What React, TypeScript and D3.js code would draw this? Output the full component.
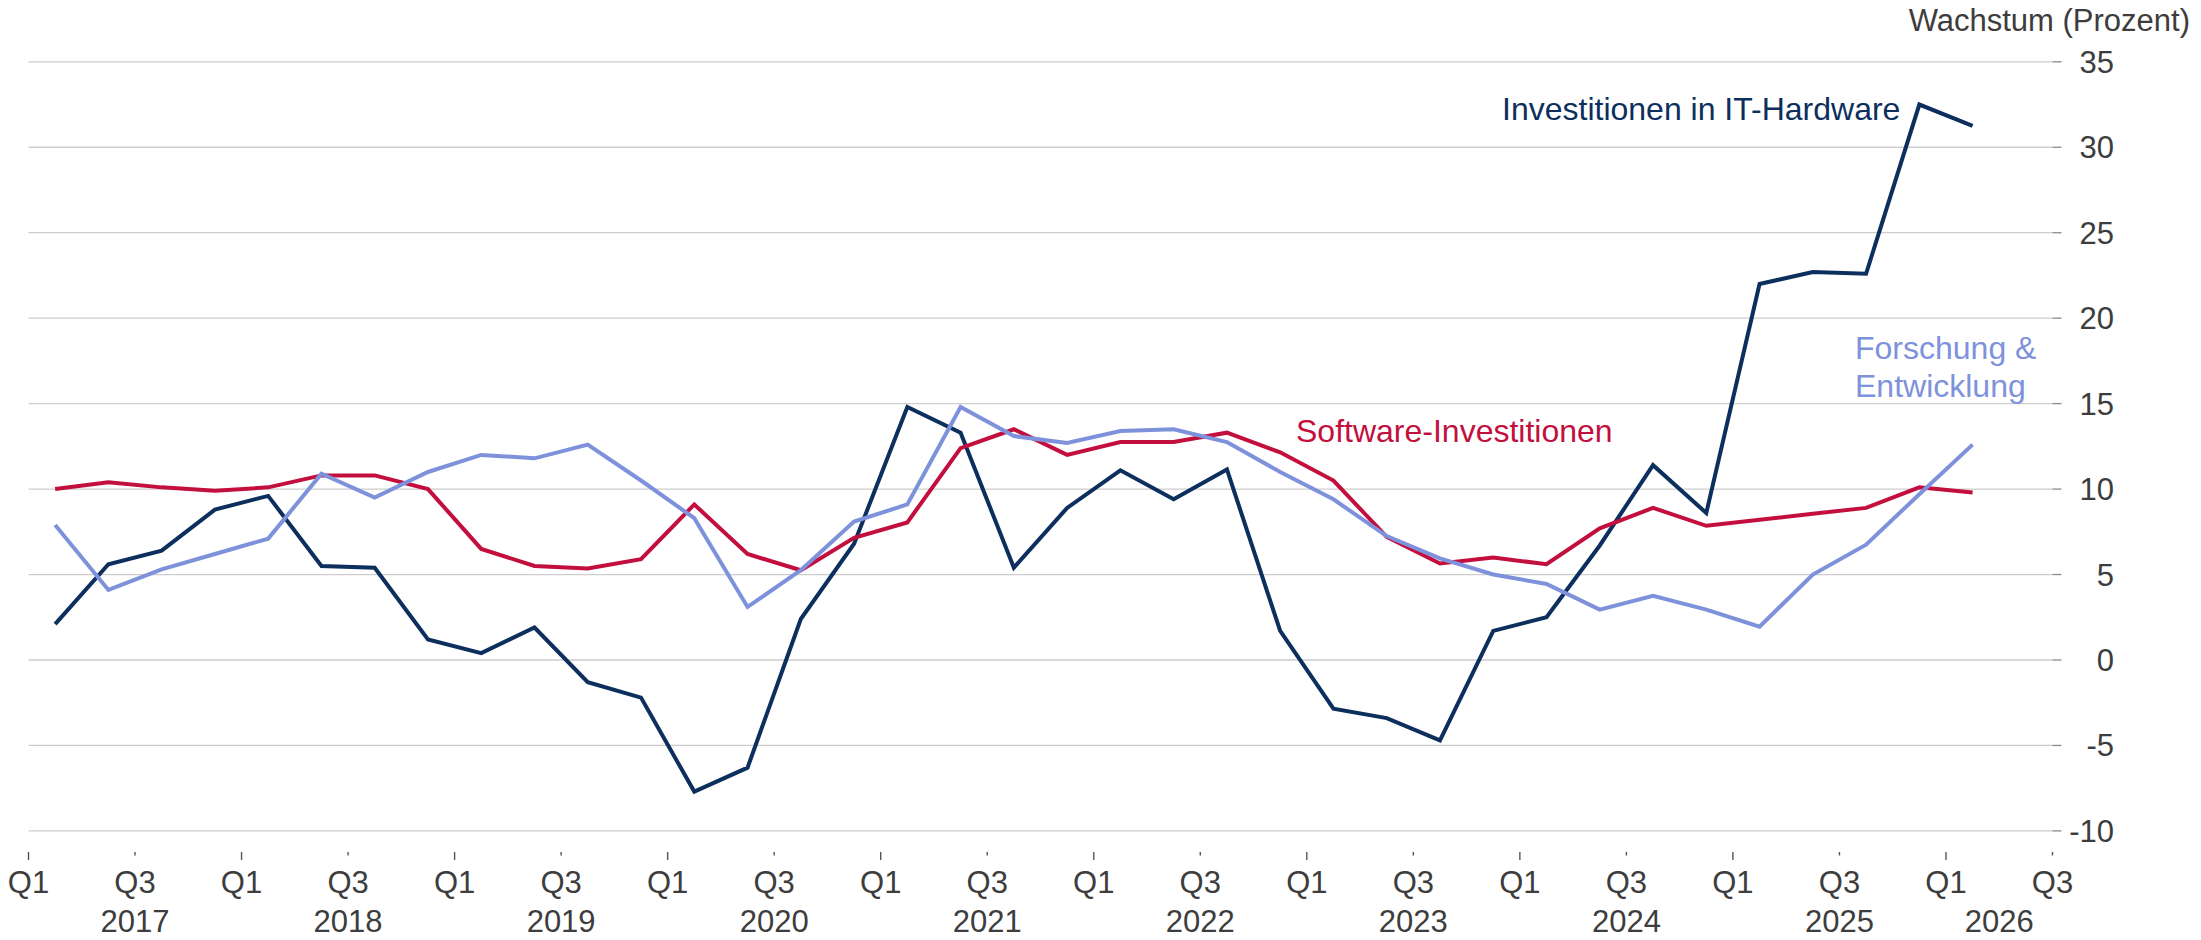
import React, { useEffect, useRef } from 'react';
import * as d3 from 'd3';

// quarterly growth rates, Q1 2017 .. Q1 2026
const hardware = [
  2.1, 5.6, 6.4, 8.8, 9.6, 5.5, 5.4, 1.2, 0.4, 1.9,
  -1.3, -2.2, -7.7, -6.3, 2.4, 6.8, 14.8, 13.3, 5.4, 8.9,
  11.1, 9.4, 11.15, 1.7, -2.85, -3.4, -4.7, 1.7, 2.5, 6.7,
  11.4, 8.6, 22.0, 22.7, 22.6, 32.5, 31.25,
];
const software = [
  10.0, 10.4, 10.1, 9.9, 10.1, 10.8, 10.8, 10.0, 6.5, 5.5,
  5.35, 5.9, 9.1, 6.2, 5.25, 7.15, 8.05, 12.4, 13.5, 12.0,
  12.75, 12.75, 13.3, 12.15, 10.5, 7.2, 5.65, 6.0, 5.6, 7.7,
  8.9, 7.85, 8.2, 8.55, 8.9, 10.1, 9.8,
];
const research = [
  7.9, 4.1, 5.3, 6.2, 7.1, 10.9, 9.5, 11.0, 12.0, 11.8,
  12.6, 10.5, 8.3, 3.1, 5.25, 8.1, 9.1, 14.8, 13.1, 12.7,
  13.4, 13.5, 12.75, 11.0, 9.4, 7.25, 5.95, 5.0, 4.45, 2.95,
  3.75, 2.95, 1.95, 5.0, 6.75, 9.7, 12.6,
];

const years = [2017, 2018, 2019, 2020, 2021, 2022, 2023, 2024, 2025, 2026];
const quarterLabels = ['Q1', 'Q3'];
const yTicks = [-10, -5, 0, 5, 10, 15, 20, 25, 30, 35];

const series = [
  { name: 'hardware', values: hardware, color: '#0c2f5d' },
  { name: 'software', values: software, color: '#c30f3e' },
  { name: 'research', values: research, color: '#7e92db' },
];

const FONT = '"Liberation Sans", Arial, sans-serif';
const TEXT = '#3d3d3d';
const AXIS_SIZE = 31;

const App = () => {
  const svgRef = useRef(null);

  useEffect(() => {
    const svg = d3.select(svgRef.current);
    svg.selectAll('*').remove();

    const nQuarters = 38; // Q1 2017 .. Q3 2026
    const x = d3.scaleLinear().domain([0, nQuarters]).range([28.5, 2052.5]);
    const y = d3.scaleLinear().domain([-10, 35]).range([830.9, 61.8]);

    // gridlines + small right ticks
    const grid = svg.append('g');
    grid
      .selectAll('line.grid')
      .data(yTicks)
      .enter()
      .append('line')
      .attr('x1', x(0))
      .attr('x2', x(nQuarters))
      .attr('y1', (d) => y(d))
      .attr('y2', (d) => y(d))
      .attr('stroke', '#cdcdcd')
      .attr('stroke-width', 1.3);
    grid
      .selectAll('line.tick')
      .data(yTicks)
      .enter()
      .append('line')
      .attr('x1', x(nQuarters))
      .attr('x2', x(nQuarters) + 9)
      .attr('y1', (d) => y(d))
      .attr('y2', (d) => y(d))
      .attr('stroke', '#8a8a8a')
      .attr('stroke-width', 1.3);

    // y labels on the right
    svg
      .append('g')
      .selectAll('text')
      .data(yTicks)
      .enter()
      .append('text')
      .attr('x', 2114)
      .attr('y', (d) => y(d) + 11)
      .attr('text-anchor', 'end')
      .attr('font-family', FONT)
      .attr('font-size', AXIS_SIZE)
      .attr('fill', TEXT)
      .text((d) => d);

    svg
      .append('text')
      .attr('x', 2190)
      .attr('y', 31)
      .attr('text-anchor', 'end')
      .attr('font-family', FONT)
      .attr('font-size', AXIS_SIZE)
      .attr('fill', TEXT)
      .text('Wachstum (Prozent)');

    // x ticks every half year
    const xTicks = d3.range(0, nQuarters + 1, 2);
    const xAxis = svg.append('g');
    xAxis
      .selectAll('line')
      .data(xTicks)
      .enter()
      .append('line')
      .attr('x1', (d) => x(d))
      .attr('x2', (d) => x(d))
      .attr('y1', 852)
      .attr('y2', (d) => (d % 4 === 0 ? 860 : 855.5))
      .attr('stroke', '#555')
      .attr('stroke-width', 1.4);
    xAxis
      .selectAll('text.q')
      .data(xTicks)
      .enter()
      .append('text')
      .attr('x', (d) => x(d))
      .attr('y', 893)
      .attr('text-anchor', 'middle')
      .attr('font-family', FONT)
      .attr('font-size', AXIS_SIZE)
      .attr('fill', TEXT)
      .text((d) => quarterLabels[(d / 2) % 2]);
    xAxis
      .selectAll('text.year')
      .data(years)
      .enter()
      .append('text')
      .attr('x', (d, i) => {
        const start = Math.max(i * 4, 0);
        const end = Math.min(i * 4 + 4, nQuarters);
        return x((start + end) / 2);
      })
      .attr('y', 932)
      .attr('text-anchor', 'middle')
      .attr('font-family', FONT)
      .attr('font-size', AXIS_SIZE)
      .attr('fill', TEXT)
      .text((d) => d);

    // lines, points sit mid-quarter
    const line = d3
      .line()
      .x((d, i) => x(i + 0.5))
      .y((d) => y(d));

    svg
      .append('g')
      .selectAll('path')
      .data(series)
      .enter()
      .append('path')
      .attr('d', (s) => line(s.values))
      .attr('fill', 'none')
      .attr('stroke', (s) => s.color)
      .attr('stroke-width', 4)
      .attr('stroke-linejoin', 'miter');

    // direct labels
    const labels = svg.append('g').attr('font-family', FONT).attr('font-size', 32);
    labels
      .append('text')
      .attr('x', 1502)
      .attr('y', 120)
      .attr('fill', series[0].color)
      .text('Investitionen in IT-Hardware');
    labels
      .append('text')
      .attr('x', 1296)
      .attr('y', 442)
      .attr('fill', series[1].color)
      .text('Software-Investitionen');
    const fe = labels
      .append('text')
      .attr('x', 1855)
      .attr('y', 359)
      .attr('fill', series[2].color);
    fe.append('tspan').attr('x', 1855).text('Forschung &');
    fe.append('tspan').attr('x', 1855).attr('dy', 38).text('Entwicklung');
  }, []);

  return (
    <svg
      ref={svgRef}
      width={2201}
      height={940}
      style={{ position: 'absolute', left: 0, top: 0, background: 'white' }}
    />
  );
};

export default App;
